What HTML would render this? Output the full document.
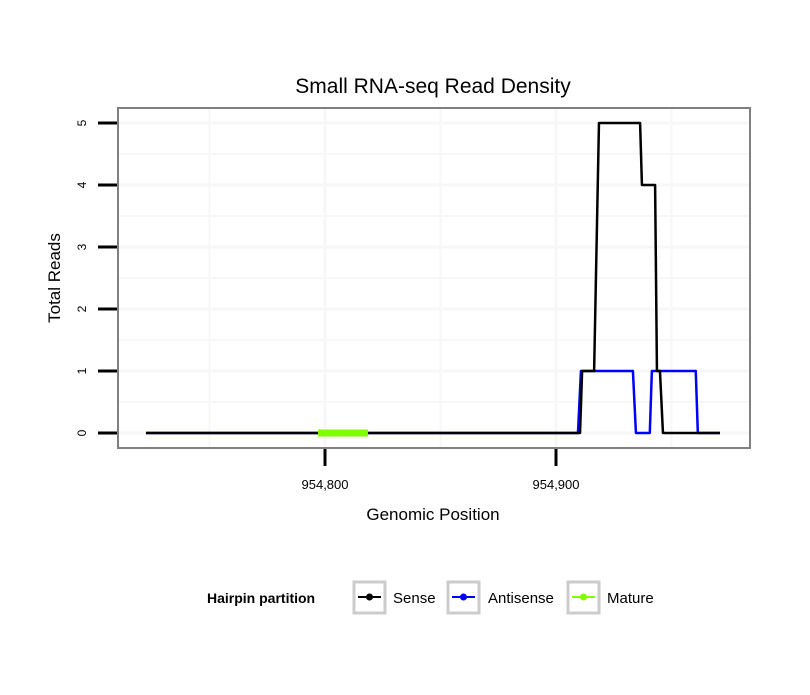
<!DOCTYPE html>
<html><head><meta charset="utf-8"><style>
body{margin:0;background:#fff;font-family:"Liberation Sans",sans-serif}
</style></head><body>
<svg id="c" width="810" height="690" xmlns="http://www.w3.org/2000/svg" font-family="Liberation Sans, sans-serif">
<rect width="810" height="690" fill="#fff"/>
<text x="433" y="93" text-anchor="middle" font-size="21">Small RNA-seq Read Density</text>
<g id="grid"></g>
<g id="series"></g>
<rect x="118" y="108" width="632" height="340" fill="none" stroke="#808080" stroke-width="2"/>
<g id="axes"></g>
<text x="433" y="520" text-anchor="middle" font-size="17">Genomic Position</text>
<text transform="translate(60,278) rotate(-90)" text-anchor="middle" font-size="17">Total Reads</text>
<g>
<text x="207" y="603" font-size="14" font-weight="bold">Hairpin partition</text>
<g><rect x="354" y="582" width="31" height="31" fill="#fff" stroke="#ccc" stroke-width="3"/><line x1="358" y1="597" x2="381" y2="597" stroke="#000" stroke-width="2"/><circle cx="369.5" cy="597" r="3.5" fill="#000"/><text x="393" y="603" font-size="15">Sense</text></g>
<g><rect x="448" y="582" width="31" height="31" fill="#fff" stroke="#ccc" stroke-width="3"/><line x1="452" y1="597" x2="475" y2="597" stroke="#0000ff" stroke-width="2"/><circle cx="463.5" cy="597" r="3.5" fill="#0000ff"/><text x="488" y="603" font-size="15">Antisense</text></g>
<g><rect x="568" y="582" width="31" height="31" fill="#fff" stroke="#ccc" stroke-width="3"/><line x1="572" y1="597" x2="595" y2="597" stroke="#7fff00" stroke-width="2"/><circle cx="583.5" cy="597" r="3.5" fill="#7fff00"/><text x="607" y="603" font-size="15">Mature</text></g>
</g>
</svg>
<script>
const senseX=[954722.5,954910.4,954911.3,954916.5,954918.6,954936.4,954937.2,954942.9,954943.7,954945,954946.3,954971];
const senseY=[0,0,1,1,5,5,4,4,1,1,0,0];
const antiX=[954722.5,954909.5,954910.8,954933.3,954934.6,954940.6,954941.5,954960.5,954961.4,954971];
const antiY=[0,0,1,1,0,0,1,1,0,0];
const matureX=[954797,954818.6];
const matureY=[0,0];
const xTicks=[954800,954900];
const xTickLabels=["954,800","954,900"];
const yTicks=[0,1,2,3,4,5];
const NS="http://www.w3.org/2000/svg";
function sx(v){return 325+(v-954800)*2.31;}
function sy(v){return 433-v*62;}
function mk(tag,attrs,parent){const e=document.createElementNS(NS,tag);for(const k in attrs)e.setAttribute(k,attrs[k]);parent.appendChild(e);return e;}
const grid=document.getElementById('grid'),ser=document.getElementById('series'),ax=document.getElementById('axes');
[954750,954800,954850,954900,954950].forEach(v=>{const l=mk('line',{x1:sx(v),x2:sx(v),y1:109,y2:447,stroke:'#f7f7f7','stroke-width':v%100==0?3:2},grid);});
[-0.25,0,0.5,1,1.5,2,2.5,3,3.5,4,4.5,5].forEach(v=>{const l=mk('line',{x1:119,x2:749,y1:sy(v),y2:sy(v),stroke:'#f7f7f7','stroke-width':Number.isInteger(v)?3:2},grid);});
function path(xs,ys,col,w,name){const d=xs.map((x,i)=>(i?'L':'M')+sx(x)+','+sy(ys[i])).join('');const p=mk('path',{d:d,fill:'none',stroke:col,'stroke-width':w,'stroke-linejoin':'round'},ser);}
path(antiX,antiY,'#0000ff',2.5,'antisense-line');
path(senseX,senseY,'#000',2.5,'sense-line');
path(matureX,matureY,'#7fff00',7,'mature-line');
yTicks.forEach(v=>{const l=mk('line',{x1:98,x2:117,y1:sy(v),y2:sy(v),stroke:'#000','stroke-width':3},ax);
const t=mk('text',{transform:`translate(86,${sy(v)}) rotate(-90)`,'text-anchor':'middle','font-size':12},ax);t.textContent=v;});
xTicks.forEach((v,i)=>{const l=mk('line',{x1:sx(v),x2:sx(v),y1:449,y2:466,stroke:'#000','stroke-width':3},ax);
const t=mk('text',{x:sx(v),y:489,'text-anchor':'middle','font-size':13},ax);t.textContent=xTickLabels[i];});
</script>
</body></html>
